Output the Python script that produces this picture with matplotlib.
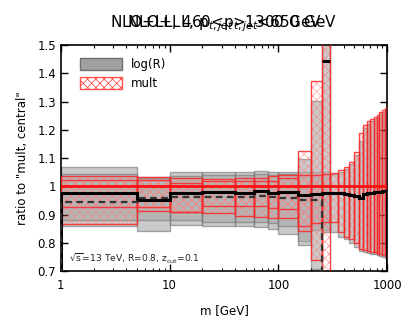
import numpy as np
import matplotlib
matplotlib.use("Agg")
import matplotlib.pyplot as plt
from matplotlib.patches import Patch

plt.rcParams['hatch.linewidth'] = 0.6

# bin edges in m [GeV]
edges = [1, 5, 10, 20, 40, 60, 80, 100, 150, 200, 250, 300, 350, 400, 450, 500,
         550, 600, 650, 700, 750, 800, 850, 900, 950, 1000]

# pt bin A (solid central line), all bins
logR_A_central = [0.977, 0.951, 0.975, 0.979, 0.977, 0.983, 0.977, 0.979, 0.969, 0.973, 0.975,
                  0.977, 0.975, 0.973, 0.970, 0.966, 0.958, 0.972, 0.976, 0.978, 0.979, 0.980,
                  0.981, 0.983, 0.985]
logR_A_lo = [0.859, 0.843, 0.863, 0.859, 0.859, 0.857, 0.849, 0.833, 0.805, 0.845, 0.845,
             0.839, 0.821, 0.812, 0.800, 0.786, 0.772, 0.768, 0.765, 0.762, 0.760, 0.757,
             0.755, 0.750, 0.748]
logR_A_hi = [1.067, 1.034, 1.049, 1.049, 1.049, 1.054, 1.049, 1.052, 1.050, 1.050, 1.050,
             1.045, 1.052, 1.063, 1.080, 1.110, 1.160, 1.205, 1.222, 1.230, 1.238, 1.245,
             1.255, 1.262, 1.268]
mult_A_lo = [0.866, 0.912, 0.910, 0.905, 0.895, 0.890, 0.887, 0.887, 0.860, 0.870, 0.875,
             0.875, 0.839, 0.821, 0.812, 0.800, 0.780, 0.775, 0.771, 0.769, 0.767, 0.762,
             0.760, 0.757, 0.754]
mult_A_hi = [1.036, 1.034, 1.030, 1.025, 1.028, 1.028, 1.036, 1.040, 1.040, 1.040, 1.045,
             1.048, 1.058, 1.069, 1.087, 1.120, 1.187, 1.217, 1.232, 1.238, 1.246, 1.252,
             1.264, 1.270, 1.276]

# pt bin B (dashed central line), bins up to 300 GeV
logR_B_central = [0.945, 0.958, 0.963, 0.963, 0.963, 0.965, 0.963, 0.957, 0.951, 0.951, 1.443]
logR_B_lo = [0.880, 0.880, 0.880, 0.875, 0.875, 0.875, 0.870, 0.860, 0.792, 0.706, 0.839]
logR_B_hi = [1.045, 1.030, 1.035, 1.040, 1.040, 1.045, 1.040, 1.045, 1.095, 1.302, 1.600]
mult_B_lo = [0.928, 0.928, 0.910, 0.930, 0.930, 0.930, 0.925, 0.920, 0.841, 0.739, 0.600]
mult_B_hi = [1.022, 1.022, 1.012, 1.020, 1.020, 1.020, 1.020, 1.030, 1.125, 1.373, 1.600]

mult_central = 1.0

fig = plt.figure(figsize=(4.11, 3.19), dpi=100)
ax = fig.add_axes([0.148, 0.150, 0.794, 0.709])

e = np.array(edges, dtype=float)

def gray_band(lo, hi, n):
    left = e[:n]
    w = e[1:n + 1] - e[:n]
    ax.bar(left, np.array(hi) - np.array(lo), width=w, bottom=lo, align='edge',
           facecolor='#a8a8a8', alpha=0.6, edgecolor='#747474', linewidth=1.0, zorder=1)

def red_band(lo, hi, n):
    left = e[:n]
    w = e[1:n + 1] - e[:n]
    ax.bar(left, np.array(hi) - np.array(lo), width=w, bottom=lo, align='edge',
           facecolor='none', hatch='xxxx', edgecolor=(1.0, 0.5, 0.5, 0.65),
           linewidth=0, zorder=2)
    ax.bar(left, np.array(hi) - np.array(lo), width=w, bottom=lo, align='edge',
           facecolor='none', edgecolor=(1.0, 0.15, 0.15, 0.85), linewidth=1.0, zorder=3)

nA = len(logR_A_central)
nB = len(logR_B_central)
gray_band(logR_A_lo, logR_A_hi, nA)
gray_band(logR_B_lo, logR_B_hi, nB)
red_band(mult_A_lo, mult_A_hi, nA)
red_band(mult_B_lo, mult_B_hi, nB)

ax.axhline(mult_central, color='#ff1010', lw=2.0, zorder=4)
ax.stairs(logR_A_central, e, color='black', lw=2.2, zorder=5)
ax.stairs(logR_B_central[:-1], e[:nB], color='#333333', lw=1.6, ls=(0, (3, 2)), zorder=5)
ax.hlines(logR_B_central[-1], e[nB - 1], e[nB], color='black', lw=2.2, zorder=5)

ax.set_xscale('log')
ax.set_xlim(1, 1000)
ax.set_ylim(0.7, 1.5)
ax.set_xticks([1, 10, 100, 1000])
ax.set_xticklabels(['1', '10', '100', '1000'])
ax.set_yticks(np.arange(0.7, 1.501, 0.1))
ax.set_yticklabels(['0.7', '0.8', '0.9', '1', '1.1', '1.2', '1.3', '1.4', '1.5'])
ax.tick_params(which='both', direction='in', top=True, right=True, labelsize=8.5)
ax.tick_params(which='major', length=5, width=1)
ax.tick_params(which='minor', length=2.5, width=0.8)
ax.tick_params(axis='x', pad=6)
for s in ax.spines.values():
    s.set_linewidth(1.2)

ax.set_xlabel('m [GeV]', fontsize=8.5, labelpad=8)
ax.set_ylabel('ratio to "mult, central"', fontsize=8.5, labelpad=6)

fig.text(0.545, 0.915, 'NLO+LL, 460<p$_{t,jet}$<650 GeV', ha='center', va='baseline', fontsize=11)
fig.text(0.545, 0.915, 'NLO+LL, p$_{t,jet}$>1300 GeV', ha='center', va='baseline', fontsize=11)

ax.text(0.025, 0.04, r'$\sqrt{\rm s}$=13 TeV, R=0.8, z$_{\rm cut}$=0.1', transform=ax.transAxes,
        fontsize=6.6, ha='left', va='baseline', color='#222222')

handles = [Patch(facecolor='#a0a0a0', edgecolor='#707070', label='log(R)'),
           Patch(facecolor='white', edgecolor='#ff5050', hatch='xxxx', label='mult')]
ax.legend(handles=handles, loc='upper left', frameon=False, fontsize=8.5,
          handlelength=3.5, handleheight=1.2, borderaxespad=0.7, bbox_to_anchor=(0.02, 1.0))

fig.savefig('out.png', dpi=100)
